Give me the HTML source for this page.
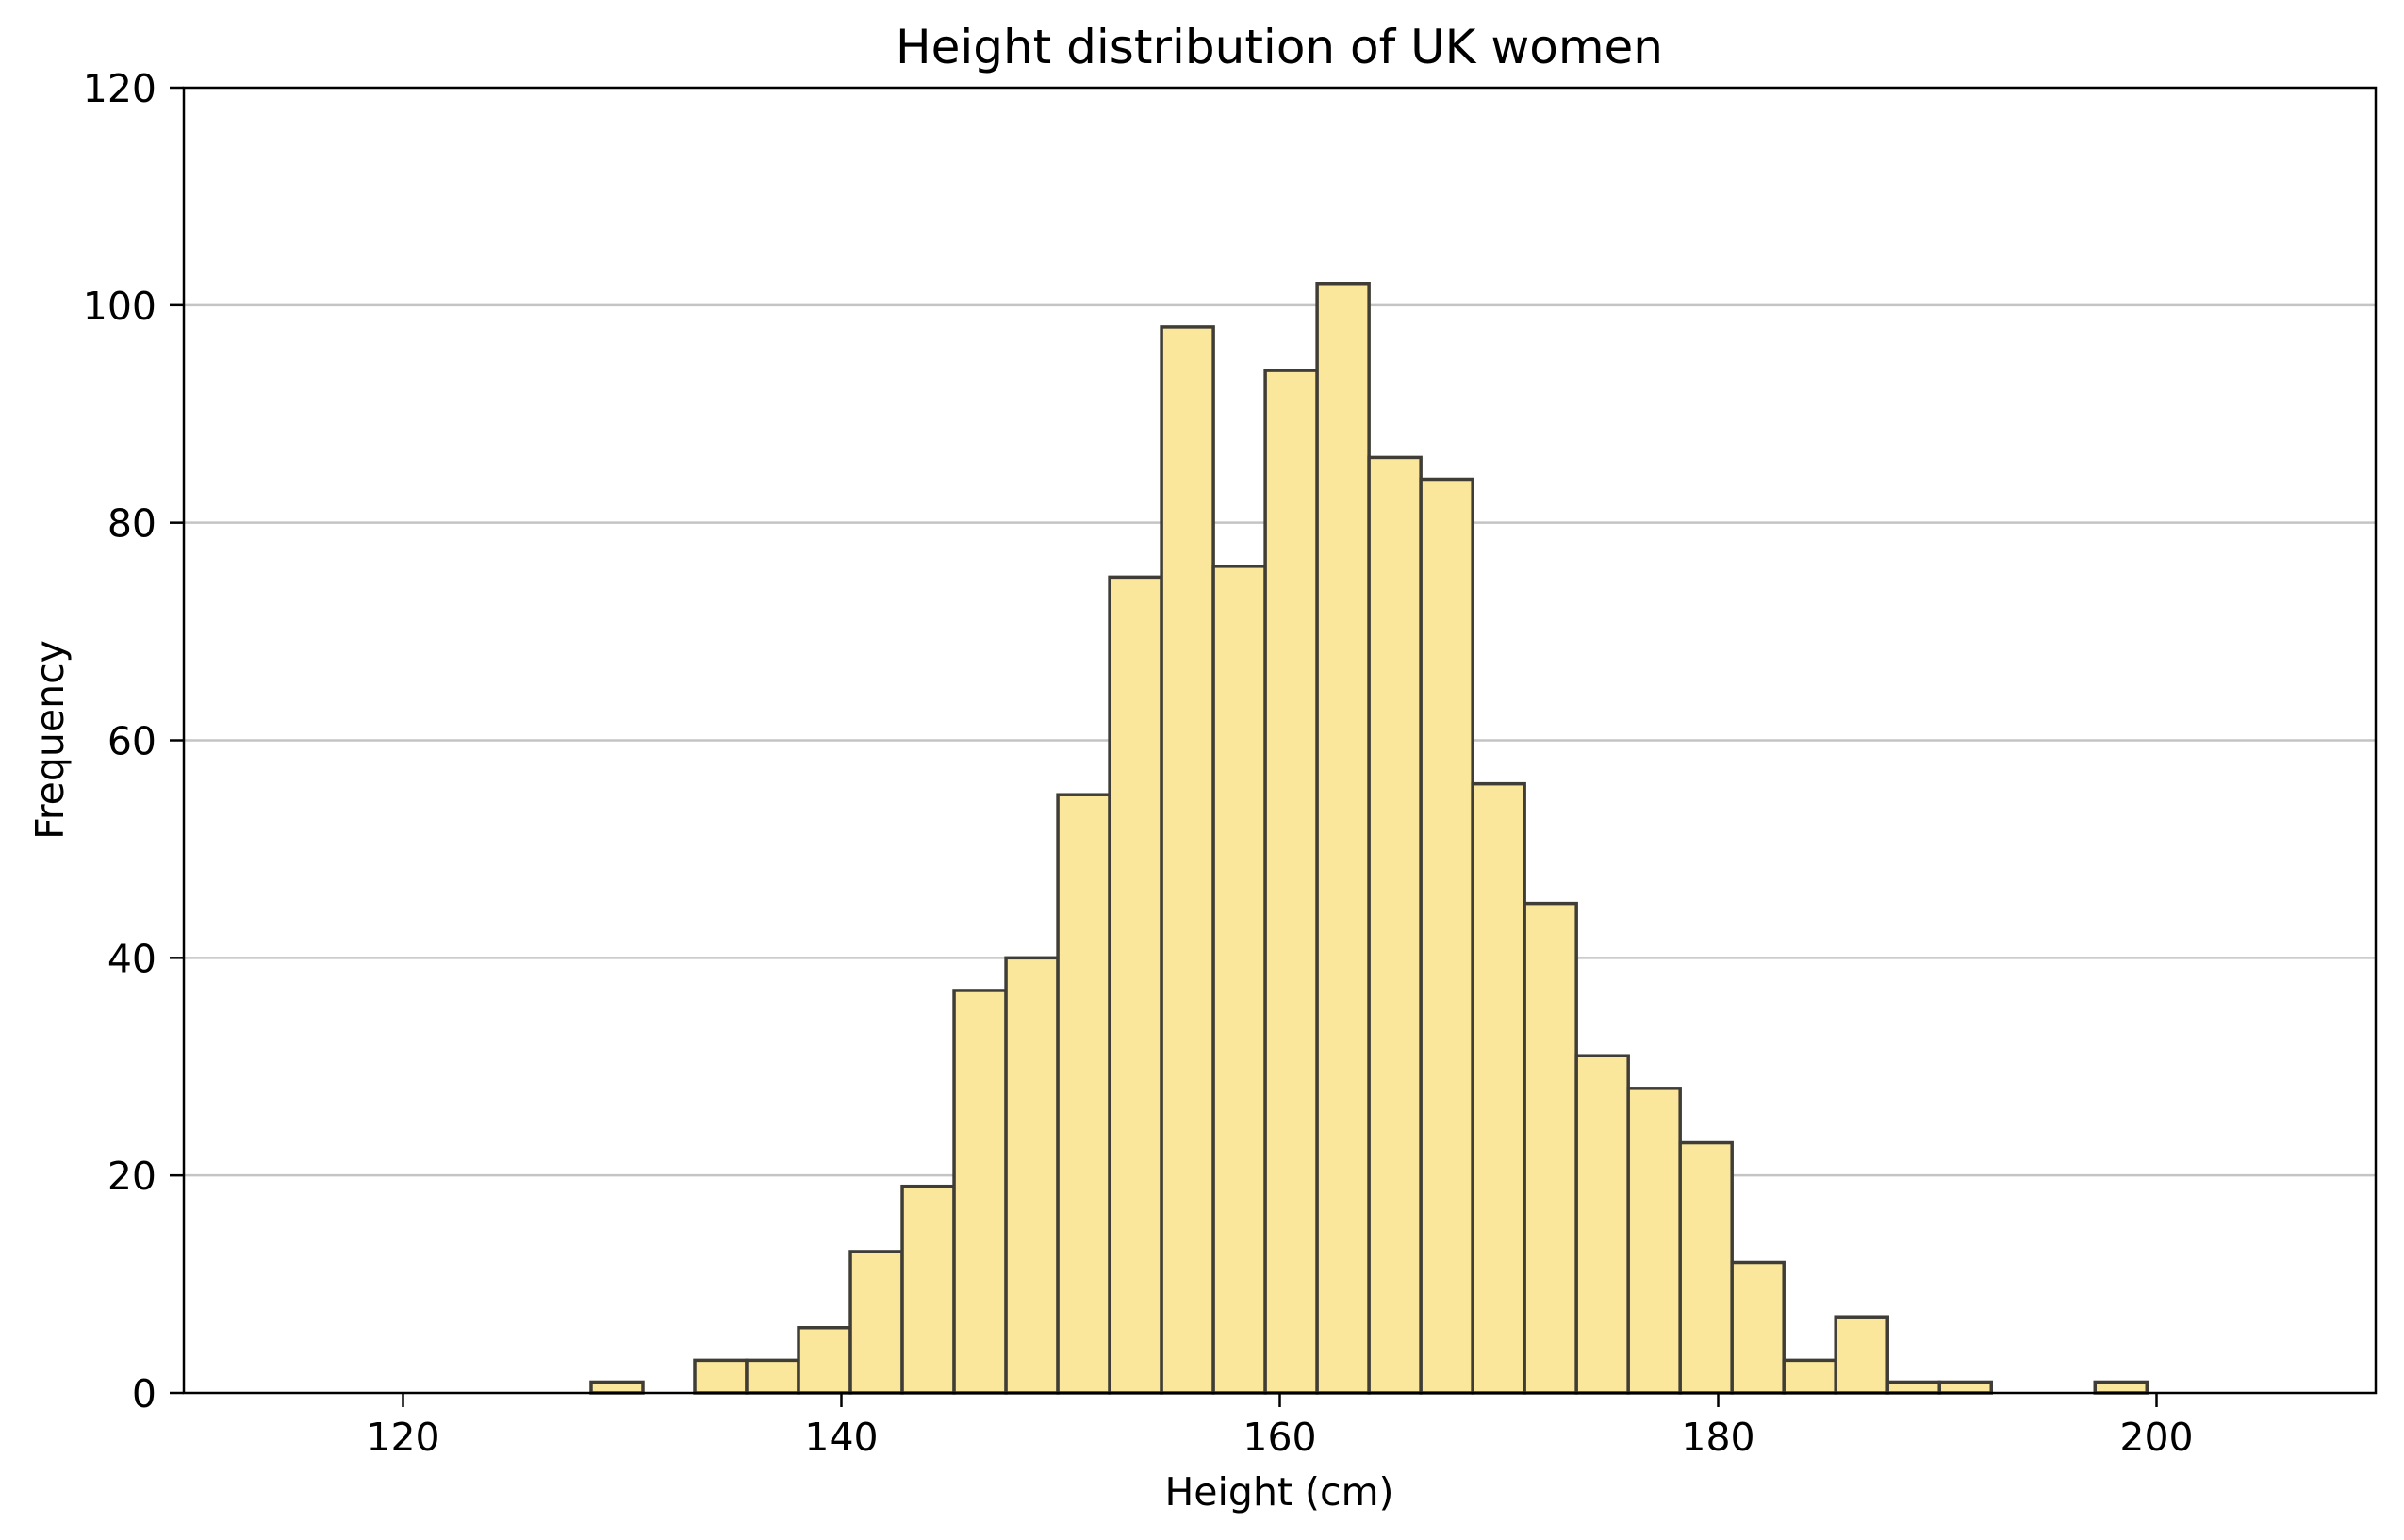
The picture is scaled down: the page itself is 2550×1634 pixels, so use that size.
<!DOCTYPE html>
<html><head><meta charset="utf-8"><style>
html,body{margin:0;padding:0;background:#fff;}
svg{display:block;font-family:"DejaVu Sans","Liberation Sans",sans-serif;}
</style></head><body>
<svg id="chart" width="2550" height="1634" viewBox="0 0 2550 1634">
<rect width="2550" height="1634" fill="#fff"/>
<g id="grid"></g>
<g id="bars"></g>
<g id="axes"></g>
<text x="1357" y="67" font-size="50" text-anchor="middle" fill="#000">Height distribution of UK women</text>
<text x="1357" y="1597" font-size="41" text-anchor="middle" fill="#000">Height (cm)</text>
<text x="67" y="785" font-size="41" text-anchor="middle" fill="#000" transform="rotate(-90 67 785)">Frequency</text>
</svg>
<script>
const binStart = 128.58;
const binWidth = 2.366;
const counts = [1,0,3,3,6,13,19,37,40,55,75,98,76,94,102,86,84,56,45,31,28,23,12,3,7,1,1,0,0,1];
const xTicks = [120,140,160,180,200];
const yTicks = [0,20,40,60,80,100,120];
const L=195,R=2520,T=93,B=1478,XMIN=110,XMAX=210,YMAX=120;
const ns="http://www.w3.org/2000/svg";
function sx(v){return L+(v-XMIN)/(XMAX-XMIN)*(R-L);}
function sy(v){return B-v/YMAX*(B-T);}
function mk(tag,attrs,parent){const e=document.createElementNS(ns,tag);for(const k in attrs)e.setAttribute(k,attrs[k]);parent.appendChild(e);return e;}
const grid=document.getElementById('grid'),bars=document.getElementById('bars'),axes=document.getElementById('axes');
yTicks.forEach(v=>{
  if(v>0&&v<YMAX){const g=mk('line',{x1:L,x2:R,y1:sy(v),y2:sy(v),stroke:'#c4c4c4','stroke-width':2.5},grid);
  
  }
  const t=mk('line',{x1:L-15,x2:L,y1:sy(v),y2:sy(v),stroke:'#000','stroke-width':2.5},axes);
  
  
  const lb=mk('text',{x:L-29,y:sy(v)+15,'font-size':41,'text-anchor':'end',fill:'#000'},axes);
  lb.textContent=v;
  
  
});
counts.forEach((c,i)=>{
  if(c<=0)return;
  const x0=sx(binStart+i*binWidth),x1=sx(binStart+(i+1)*binWidth);
  const r=mk('rect',{x:x0,y:sy(c),width:x1-x0,height:B-sy(c),fill:'#fae79b',stroke:'#3f3d36','stroke-width':3.5},bars);
  
  
});
xTicks.forEach(v=>{
  const t=mk('line',{x1:sx(v),x2:sx(v),y1:B,y2:B+15,stroke:'#000','stroke-width':2.5},axes);
  
  
  const lb=mk('text',{x:sx(v),y:B+61,'font-size':41,'text-anchor':'middle',fill:'#000'},axes);
  lb.textContent=v;
  
  
});
const f=mk('rect',{x:L,y:T,width:R-L,height:B-T,fill:'none',stroke:'#000','stroke-width':2.5},axes);


</script>
</body></html>
